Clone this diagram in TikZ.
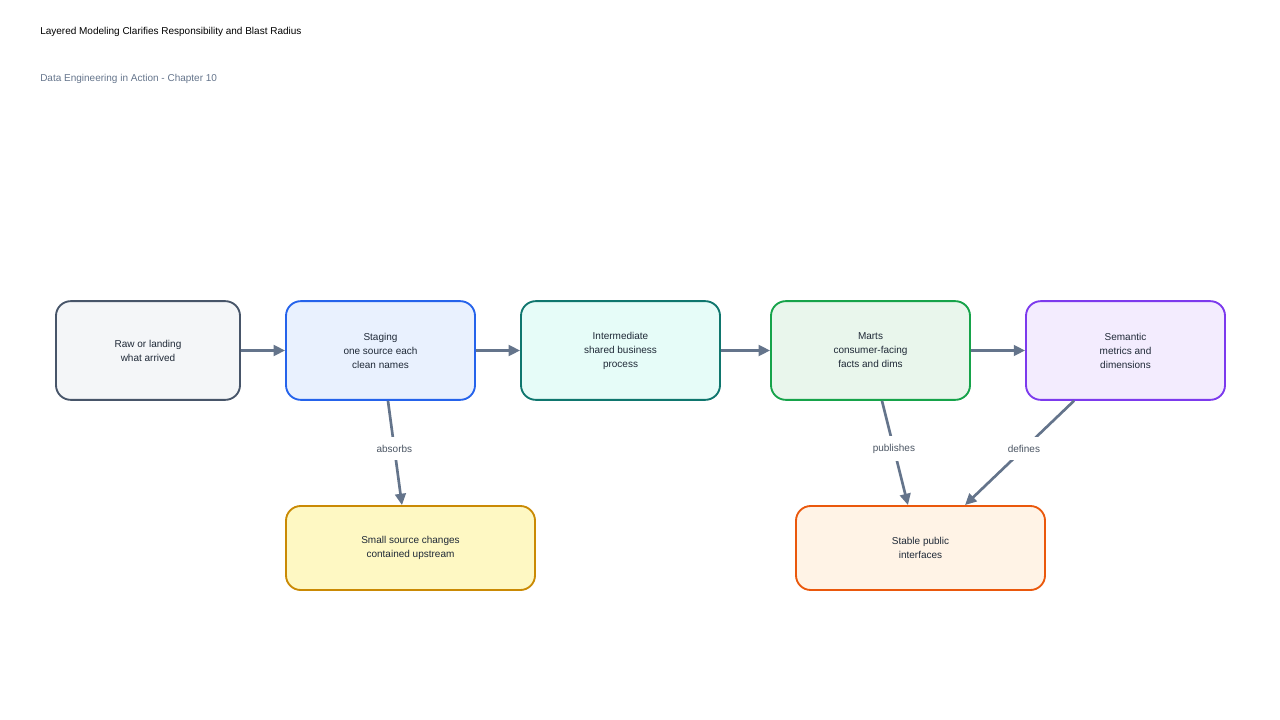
\documentclass[tikz,border=0pt]{standalone}
\usepackage{fontspec}
\setmainfont{Liberation Sans}
\usepackage{tikz}
\usetikzlibrary{positioning,calc,arrows.meta}

\definecolor{edgegray}{HTML}{64748B}
\definecolor{labgray}{HTML}{4B5563}
\definecolor{inkdark}{HTML}{1F2937}
\definecolor{rawline}{HTML}{475569}\definecolor{rawfill}{HTML}{F4F6F8}
\definecolor{stgline}{HTML}{2563EB}\definecolor{stgfill}{HTML}{E9F1FE}
\definecolor{intline}{HTML}{0F766E}\definecolor{intfill}{HTML}{E6FCF8}
\definecolor{mrtline}{HTML}{16A34A}\definecolor{mrtfill}{HTML}{E9F6EC}
\definecolor{semline}{HTML}{7C3AED}\definecolor{semfill}{HTML}{F3ECFE}
\definecolor{smlline}{HTML}{CA8A04}\definecolor{smlfill}{HTML}{FEF8C3}
\definecolor{stbline}{HTML}{EA580C}\definecolor{stbfill}{HTML}{FFF3E6}

\begin{document}
\begin{tikzpicture}[
    x=0.75pt, y=-0.75pt,
    layer/.style={draw, line width=1.4pt, rounded corners=11pt, align=center,
        font=\fontsize{7.5}{10.5}\selectfont, text=inkdark, minimum height=74pt},
    flow/.style={draw=edgegray, line width=2pt, -{Triangle[length=8.5pt,width=8pt]}},
    edgelab/.style={fill=white, text=labgray, font=\fontsize{7.5}{9}\selectfont,
        inner xsep=3pt, inner ysep=6pt, pos=0.46},
]
\useasboundingbox (0,0) rectangle (1280,720);

% Heading
\node[anchor=west, inner sep=0pt, font=\fontsize{7.5}{9}\selectfont, text=black] (title) at (40,32)
    {Layered Modeling Clarifies Responsibility and Blast Radius};
\node[anchor=west, inner sep=0pt, font=\fontsize{7.5}{9}\selectfont, text=edgegray] (subtitle) at (40,79)
    {Data Engineering in Action - Chapter 10};

% Layers
\node[layer, draw=rawline, fill=rawfill, minimum width=138pt] (raw) at (148,350.5)
    {Raw or landing\\what arrived};
\node[layer, draw=stgline, fill=stgfill, minimum width=141.75pt] (staging) at (380.5,350.5)
    {Staging\\one source each\\clean names};
\node[layer, draw=intline, fill=intfill, minimum width=149.25pt] (inter) at (620.5,350.5)
    {Intermediate\\shared business\\process};
\node[layer, draw=mrtline, fill=mrtfill, minimum width=149.25pt] (marts) at (870.5,350.5)
    {Marts\\consumer-facing\\facts and dims};
\node[layer, draw=semline, fill=semfill, minimum width=149.25pt] (semantic) at (1125.5,350.5)
    {Semantic\\metrics and\\dimensions};

% Outcomes
\node[layer, draw=smlline, fill=smlfill, minimum width=186.75pt, minimum height=63pt] (small) at (410.5,548)
    {Small source changes\\contained upstream};
\node[layer, draw=stbline, fill=stbfill, minimum width=186.75pt, minimum height=63pt] (stable) at (920.5,548)
    {Stable public\\interfaces};

% Main flow
\draw[flow] (raw) -- (staging);
\draw[flow] (staging) -- (inter);
\draw[flow] (inter) -- (marts);
\draw[flow] (marts) -- (semantic);

% Side effects
\draw[flow] ([xshift=5.6pt]staging.south) -- node[edgelab] {absorbs} ([xshift=-6.4pt]small.north);
\draw[flow] ([xshift=8.6pt]marts.south) -- node[edgelab] {publishes} ([xshift=-9.4pt]stable.north);
\draw[flow] ([xshift=-38.6pt]semantic.south) -- node[edgelab] {defines} ([xshift=33.4pt]stable.north);
\end{tikzpicture}
\end{document}
